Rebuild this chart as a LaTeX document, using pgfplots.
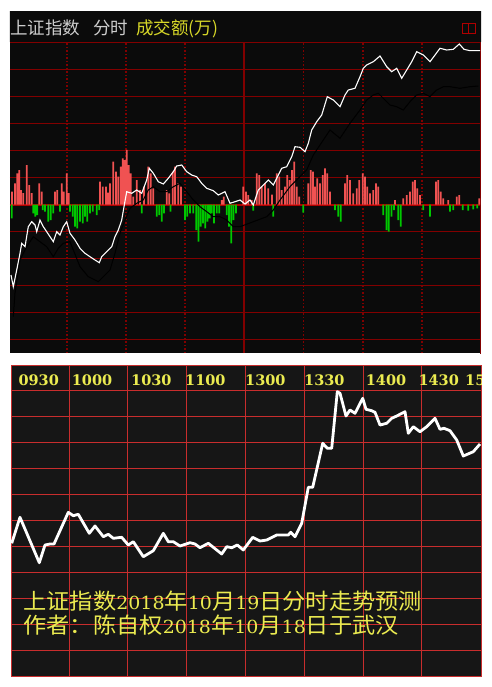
\documentclass[border=0pt]{standalone}
\usepackage{pgfplots}
\pgfplotsset{compat=1.18}
\usepackage{fontspec}
\newfontfamily\cjk{Noto Sans CJK SC}
\newfontfamily\dserif{DejaVu Serif}
\definecolor{topbg}{RGB}{11,11,11}
\definecolor{gridtop}{RGB}{130,0,0}
\definecolor{zeroline}{RGB}{175,0,0}
\definecolor{barred}{RGB}{240,82,82}
\definecolor{bargreen}{RGB}{0,200,0}
\definecolor{titlegray}{RGB}{205,205,205}
\definecolor{titleyellow}{RGB}{215,215,40}
\definecolor{iconred}{RGB}{175,0,0}
\definecolor{botbg}{RGB}{22,22,22}
\definecolor{gridbot}{RGB}{200,45,45}
\definecolor{labyellow}{RGB}{235,235,80}
\tikzset{tlab/.style={anchor=base west, inner sep=0pt, text=labyellow, font=\dserif\bfseries\fontsize{14.5}{16}\selectfont},
  cnote/.style={anchor=base west, inner sep=0pt, text=labyellow}}
\newcommand\dg[1]{{\dserif\fontsize{18}{20}\selectfont #1}}
\begin{document}
\begin{tikzpicture}
\fill[white] (0pt,0pt) rectangle (491pt,-687pt);
% ---------------- top panel ----------------
\begin{axis}[at={(10pt,-12pt)}, anchor=north west, scale only axis,
  width=471pt, height=341pt,
  xmin=10, xmax=481, ymin=-148.5, ymax=192.5,
  axis background/.style={fill=topbg},
  axis line style={draw=none}, tick style={draw=none},
  xticklabels={}, yticklabels={}, extra x tick labels={}, extra y tick labels={},
  xtick={67,126,185,303.5,363,422},
  ytick={-135,-108,-81,-54,-27,27,54,81,108,135,162},
  grid=major,
  x grid style={gridtop, dash pattern=on 1.5pt off 2pt, line width=1.1pt},
  y grid style={gridtop, line width=1.4pt},
  extra x ticks={244}, extra x tick style={grid=major, x grid style={gridtop, solid, line width=1.2pt}},
  extra y ticks={0}, extra y tick style={grid=major, y grid style={zeroline, solid, line width=2pt}},
]
\fill[topbg] (axis cs:9,162.9) rectangle (axis cs:482,193);
\draw[gridtop, line width=1pt] (axis cs:480.5,162) -- (axis cs:480.5,-149);
\node[anchor=base west, inner sep=0pt, text=titlegray, font=\cjk\fontsize{17.5}{18}\selectfont] at (axis cs:10,169.5) {上证指数};
\node[anchor=base west, inner sep=0pt, text=titlegray, font=\cjk\fontsize{17.5}{18}\selectfont] at (axis cs:93,169.5) {分时};
\node[anchor=base west, inner sep=0pt, text=titleyellow, font=\cjk\fontsize{17.5}{18}\selectfont] at (axis cs:136,169.5) {成交额(万)};
\draw[iconred, line width=1pt] (axis cs:462,171.2) rectangle (axis cs:475,181.2);
\draw[iconred, line width=1pt] (axis cs:468.5,171.2) -- (axis cs:468.5,181.2);
% red volume bars
\addplot[ybar, bar width=1.8, bar shift=0pt, fill=barred, draw=none] coordinates {
(12,12.8) (15,21.2) (17.3,31.2) (19.3,34.5) (21,14.5) (23.3,11.5) (26.7,39.5) (29.3,19.5) (31.7,11.5)
(39.3,21.2) (41.7,12.8) (55,12.8) (57.3,14.5) (61.7,21.2) (63.8,12.8) (66.7,31.2) (68.8,11.5)
(100,22.8) (102.7,17.8) (106,17.8) (108,12) (110,21.2) (113.3,42.8) (116,32.8) (118.3,27.8) (120.7,37.8)
(122.7,46.2) (124.8,44.5) (126.8,54.5) (128.8,39.5) (130.8,31.2) (133.3,7.8) (136.7,24.5) (140,14.5)
(144,17.8) (148.3,37.8) (150.7,31.2) (153.3,16.2) (166.7,14.5) (169.3,11.2) (172.7,32.8) (175,37.8)
(178.3,21.2) (181,17.8) (221.7,4.5) (223.8,7.8)
(243.3,17.8) (246,12.8) (248.3,9.5) (251.7,4.5) (256.7,31.2) (259.3,29.5) (261.7,17.8) (265,21.2)
(268.3,16.2) (272,10) (276.7,31.2) (279.3,27.8) (281.7,14.5) (285,17.8) (287.3,29.5) (289.7,24.5)
(292,34.5) (294.3,42.8) (296.7,17.8) (299.3,7.8) (308.3,21.2) (310.7,34.5) (312.9,32.8) (315,17.8)
(317.3,26.2) (320,21.2) (322.7,29.5) (325,36.2) (327.3,31.2) (330,12.8) (345,21.2) (347.3,29.5)
(350,24.5) (353.3,11.2) (356.7,16.2) (359.3,24.5) (362.7,31.2) (365,27.8) (367.3,17.8) (370,11.2)
(373.3,14.5) (376,21.2) (378.3,17.8) (395,4.5) (403.3,6.2) (406.7,9.5) (410,12.8) (412.7,22.8)
(415,24.5) (417.3,16.2) (420,9.5) (436,22.8) (438.3,24.5) (440.7,12.8) (443.3,6.2) (448.3,4.5)
(456.7,7.8) (459.3,9.5) (479.3,6.2)
};
% green volume bars
\addplot[ybar, bar width=1.8, bar shift=0pt, fill=bargreen, draw=none] coordinates {
(11.7,-13.8) (33.3,-8.8) (35.3,-12.2) (37.3,-10.5) (42.7,-5.5) (45,-7.2) (48.3,-17.2) (50.7,-15.5)
(53.3,-8.8) (60,-7.2) (70,-7.2) (72.7,-12.2) (75,-22.2) (77.3,-23.8) (80,-17.2) (82.7,-18.8)
(85,-12.2) (87.3,-17.2) (90,-8.8) (92.7,-7.2) (96.7,-10.5) (99.3,-5.5) (141.7,-8.8) (156.7,-12.2)
(159.3,-10.5) (161.7,-17.2) (164,-8.8) (170.5,-7.2) (185,-15.5) (187.3,-12.2) (190,-8.8) (193.3,-8.8)
(196.3,-25.5) (198.5,-37.2) (200.7,-22.2) (203,-18.8) (205.2,-23.8) (207.4,-17.2) (209.6,-13.8)
(211.8,-8.8) (214,-18.8) (216.7,-8.8) (219.3,-8.8) (226.7,-10.5) (229,-22.2) (231.2,-38.8)
(233.4,-15.5) (236,-8.8) (253.3,-6.2) (273.3,-12.2) (303.3,-8.2) (335,-5.5) (338.3,-12.2)
(340.7,-17.2) (383.3,-10.5) (386.5,-25.5) (388.8,-27.2) (391.5,-12.2) (394,-5.5) (398.3,-15.5)
(400.7,-22.2) (423.3,-5.5) (430,-12.2) (450,-7.2) (453.3,-5.5) (462.7,-5.5) (468.3,-6.2)
(473.3,-4.8) (477.3,-3.8)
};
% black line
\addplot[black, line width=1pt] coordinates {
(13.3,-112.2) (15,-88.5) (20,-55.5) (26.7,-42.2) (33.3,-32.2) (40,-37.2) (46.7,-42.2) (53.3,-52.2)
(58.3,-43.8) (63.3,-38.8) (70,-37.2) (80,-62.2) (88.3,-72.2) (98.3,-77.2) (103.3,-72.2) (110,-65.5)
(115,-48.8) (120,-28.8) (125,-15.5) (130,-3.8) (136.7,1.2) (143.3,4.5) (148.3,14.5) (153.3,17.8)
(160,12.8) (166.7,12.8) (173.3,17.8) (180,21.2) (186.7,12.8) (193.3,4.5) (200,-2.2) (206.7,-7.2)
(213.3,-12.2) (220,-12.2) (226.7,-15.5) (233.3,-22.2) (240,-22.2) (253.3,-17.2) (266.7,-12.2)
(273.3,-5.5) (280,4.5) (290,17.8) (300,27.8) (306.7,34.5) (313.3,49.5) (323.3,64.5) (330,74.5)
(340,66.2) (350,81.2) (360,94.5) (366.7,104.5) (373.3,109.5) (378.3,111.2) (383.3,106.2) (390,99.5)
(396.7,97.8) (403.3,94.5) (410,102.8) (416.7,109.5) (423.3,111.2) (430,107.8) (436.7,114.5)
(443.3,117.8) (450,117.8) (460,116.2) (470,117.8) (478.3,118.5)
};
% white line
\addplot[white, line width=1.1pt] coordinates {
(11,-70.5) (13.3,-82.2) (16.7,-65.5) (20,-48.8) (21.7,-38.8) (25,-42.2) (28.3,-22.2) (31.7,-17.2)
(35,-20.5) (36.7,-27.2) (40,-15.5) (43.3,-22.2) (46.7,-27.2) (50,-32.2) (53.3,-37.2) (56.7,-27.2)
(60,-30.5) (63.3,-22.2) (66.7,-17.2) (70,-28.8) (75,-35.5) (80,-43.8) (85,-48.8) (90,-52.2)
(95,-55.5) (99.3,-58.2) (101.7,-52.2) (106.7,-47.2) (111.7,-42.2) (115,-32.2) (118.3,-25.5)
(121.7,-15.5) (124,-2.2) (126.7,12.8) (131.7,11.2) (136.7,14.5) (141.7,11.2) (146.7,24.5)
(149.3,36.2) (153.3,31.2) (158.3,22.8) (163.3,20.5) (168.3,26.2) (173.3,32.8) (176.7,38.5)
(181.7,39.5) (186.7,32.8) (191.7,29.5) (196.7,27.8) (201.7,21.2) (206.7,16.2) (213.3,13.8)
(218.3,9.5) (225,12.8) (230,1.2) (235,2.8) (240,4.5) (245,0.5) (250,4.5) (253.3,-0.5) (258.3,14.5)
(263.3,19.5) (268.3,24.5) (273.3,19.5) (278.3,29.5) (281.7,36.2) (286.7,37.8) (291.7,47.8)
(295,57.8) (300,57.2) (305,52.8) (308.3,61.2) (311.7,74.5) (316.7,82.8) (321.7,89.5) (327.3,107.8)
(333.3,104.5) (340,97.8) (345,109.5) (348.3,114.5) (355,116.2) (360,127.8) (363.3,136.2)
(366.7,139.5) (373.3,142.8) (380,148.5) (386.7,137.8) (391.7,132.8) (396.7,136.2) (401.7,126.2)
(406.7,134.5) (411.7,142.8) (416.7,152.8) (423.3,149.5) (430,142.8) (435,149.5) (440,156.2)
(446.7,154.5) (453.3,155.2) (459.3,160.5) (464,155.2) (470,153.8) (480,153.8)
};
\end{axis}
% ---------------- bottom panel ----------------
\begin{axis}[at={(11pt,-365pt)}, anchor=north west, scale only axis,
  width=470pt, height=311pt,
  xmin=11, xmax=481, ymin=0, ymax=311,
  axis background/.style={fill=botbg},
  axis line style={gridbot, line width=0.9pt}, tick style={draw=none},
  xticklabels={}, yticklabels={},
  xtick={69.3,127.7,186.7,245.7,304.3,363.3,421.7},
  ytick={25.9,51.9,77.8,103.8,129.7,155.6,181.6,207.5,233.4,259.4,285.3},
  grid=major, grid style={gridbot, line width=0.8pt},
]
\node[tlab] at (axis cs:18.3,291) {0930};
\node[tlab] at (axis cs:71.7,291) {1000};
\node[tlab] at (axis cs:131,291) {1030};
\node[tlab] at (axis cs:185,291) {1100};
\node[tlab] at (axis cs:245,291) {1300};
\node[tlab] at (axis cs:304,291) {1330};
\node[tlab] at (axis cs:365.7,291) {1400};
\node[tlab] at (axis cs:418.3,291) {1430};
\node[tlab] at (axis cs:465,291) {15};
\node[cnote] at (axis cs:23.3,66.7)
 {\scalebox{1.055}[1]{\cjk\fontsize{22}{24}\selectfont 上证指数\dg{2018}年\dg{10}月\dg{19}日分时走势预测}};
\node[cnote] at (axis cs:23.3,42.8)
 {\scalebox{1.055}[1]{\cjk\fontsize{22}{24}\selectfont 作者：陈自权\dg{2018}年\dg{10}月\dg{18}日于武汉}};
\addplot[white, line width=2.8pt, line join=round] coordinates {
(11.7,132.7) (20,158.7) (39.3,113.3) (45,131) (50,132) (54,132) (68.3,163.7) (73.3,160.3)
(78.3,161.7) (89.3,142.7) (95,150) (103.3,139.3) (108.3,141.7) (113.3,137.7) (121.7,138.7)
(128.3,131) (133.3,134.3) (143.3,119.3) (153.3,125.3) (163.3,142.7) (168.3,134.3) (173.3,134.3)
(180,130) (190,133.3) (195,132) (200,128.3) (208.3,132.7) (221.7,122) (226.7,129.3) (231.7,128.3)
(237.3,131) (243.3,126) (252.7,138.7) (260,135) (266.7,136) (276.7,141) (288.3,141) (290.7,143.7)
(295,139.3) (301.7,152.7) (308.3,188.7) (312.7,188.7) (322.7,232.7) (327.3,227.7) (331.7,227.7)
(337.3,284.3) (340,282.7) (346,260) (350,266) (355,262.7) (362.7,277.7) (366,266.7) (371.7,265.3)
(375,263.7) (380,251) (386.7,252.7) (391.7,257.7) (396.7,260) (405,264.3) (408.3,242.7)
(413.3,249.3) (420,244.3) (426.7,249.3) (435,257.7) (440,246.7) (444,247.7) (450,245.3)
(456.7,236) (463.3,220) (473.3,224.3) (480,232)
};
\end{axis}
\end{tikzpicture}
\end{document}
